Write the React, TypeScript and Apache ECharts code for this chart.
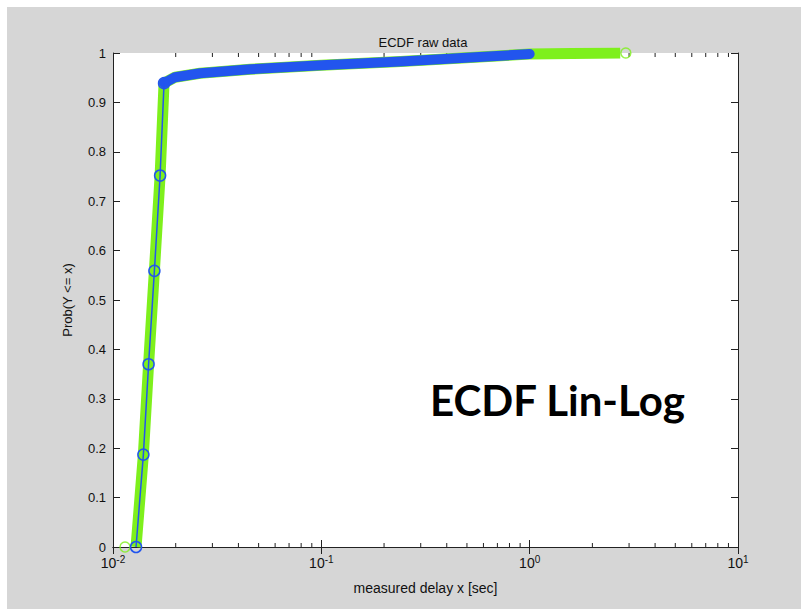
import React, { useEffect, useRef } from "react";
import * as echarts from "echarts";

// ---- data ----
const greenX = [0.0129, 0.01399, 0.01482, 0.0158, 0.01683, 0.01758, 0.01987, 0.0262, 0.0456, 0.1, 0.24, 0.52, 1.0, 1.6, 2.72];
const greenY = [0, 0.187, 0.37, 0.559, 0.752, 0.939, 0.951, 0.959, 0.967, 0.975, 0.983, 0.991, 0.998, 0.999, 1.0];
const greenEndsX = [0.01142, 2.894];
const greenEndsY = [0, 1.0];

const blueX = [0.0129, 0.01399, 0.01482, 0.0158, 0.01683, 0.01758];
const blueY = [0, 0.187, 0.37, 0.559, 0.752, 0.939];

const blueTailX = [0.01758, 0.01987, 0.0262, 0.0456, 0.1, 0.24, 0.52, 1.0];
const blueTailY = [0.939, 0.951, 0.959, 0.967, 0.975, 0.983, 0.991, 0.998];

const minorTickValues = [
  0.02, 0.03, 0.04, 0.05, 0.06, 0.07, 0.08, 0.09,
  0.2, 0.3, 0.4, 0.5, 0.6, 0.7, 0.8, 0.9,
  2, 3, 4, 5, 6, 7, 8, 9,
];

const titleText = "ECDF raw data";
const xName = "measured delay x [sec]";
const yName = "Prob(Y <= x)";
const annotation = "ECDF Lin-Log";

const LIME = "#7ef01c";
const BLUE = "#2255ee";
const FONT = "'Liberation Sans', Arial, sans-serif";

const zip = (xs: number[], ys: number[]) => xs.map((x, i) => [x, ys[i]]);

export default function App() {
  const ref = useRef<HTMLDivElement>(null);
  useEffect(() => {
    if (!ref.current) return;
    const chart = echarts.init(ref.current, undefined, { renderer: "svg" });
    const logAxisBase = {
      type: "log" as const,
      logBase: 10,
      min: 0.01,
      max: 10,
      axisLine: { show: true, lineStyle: { color: "#222", width: 1 } },
      axisTick: { show: true, inside: true, length: 7, lineStyle: { color: "#222" } },
      splitLine: { show: false },
      minorTick: { show: false },
    };
    const valAxisBase = {
      type: "value" as const,
      min: 0,
      max: 1,
      interval: 0.1,
      axisLine: { show: true, lineStyle: { color: "#222", width: 1 } },
      axisTick: { show: true, inside: true, length: 7, lineStyle: { color: "#222" } },
      splitLine: { show: false },
    };
    chart.setOption({
      animation: false,
      backgroundColor: "#d6d6d6",
      title: {
        text: titleText,
        left: 411,
        top: 24,
        textAlign: "center",
        textStyle: { fontFamily: FONT, fontSize: 13, fontWeight: "normal", color: "#111" },
      },
      grid: {
        left: 106,
        right: 63,
        top: 46,
        bottom: 62,
        show: true,
        backgroundColor: "#ffffff",
        borderWidth: 0,
      },
      xAxis: [
        {
          ...logAxisBase,
          position: "bottom",
          name: xName,
          nameLocation: "middle",
          nameGap: 34,
          nameTextStyle: { fontFamily: FONT, fontSize: 14, color: "#111" },
          axisLabel: {
            margin: 7,
            formatter: (v: number) => `{b|10}{s|${Math.round(Math.log10(v))}}`,
            rich: {
              b: { fontFamily: FONT, fontSize: 14, color: "#111", lineHeight: 14, padding: [3, 0, 0, 0] },
              s: { fontFamily: FONT, fontSize: 10, color: "#111", lineHeight: 10, verticalAlign: "top" },
            },
          },
        },
        { ...logAxisBase, position: "top", axisLabel: { show: false } },
      ],
      yAxis: [
        {
          ...valAxisBase,
          position: "left",
          name: yName,
          nameLocation: "middle",
          nameRotate: 90,
          nameGap: 39,
          nameTextStyle: { fontFamily: FONT, fontSize: 13, color: "#111" },
          axisLabel: {
            margin: 7,
            fontFamily: FONT,
            fontSize: 13,
            color: "#111",
            formatter: (v: number) => String(Math.round(v * 10) / 10),
          },
        },
        { ...valAxisBase, position: "right", axisLabel: { show: false } },
      ],
      graphic: [
        {
          type: "text",
          x: 423,
          y: 393,
          style: {
            text: annotation,
            font: "bold 42px Lato, 'Open Sans', sans-serif",
            fill: "#000",
            verticalAlign: "middle",
            align: "left",
          },
        },
      ],
      series: [
        {
          type: "custom",
          xAxisIndex: 0,
          yAxisIndex: 0,
          silent: true,
          clip: false,
          data: minorTickValues.map((v) => [v, 0]),
          renderItem: (params: any, api: any) => {
            const v = api.value(0);
            const b = api.coord([v, 0]);
            const t = api.coord([v, 1]);
            const st = { stroke: "#222", lineWidth: 1 };
            return {
              type: "group",
              children: [
                { type: "line", shape: { x1: b[0], y1: b[1], x2: b[0], y2: b[1] - 4 }, style: st },
                { type: "line", shape: { x1: t[0], y1: t[1], x2: t[0], y2: t[1] + 4 }, style: st },
              ],
            };
          },
        },
        {
          type: "line",
          name: "green",
          data: zip(greenX, greenY),
          showSymbol: false,
          symbol: "none",
          lineStyle: { color: LIME, width: 11, cap: "butt", join: "round" },
          z: 2,
        },
        {
          type: "scatter",
          name: "green ends",
          data: zip(greenEndsX, greenEndsY),
          symbol: "circle",
          symbolSize: 10,
          itemStyle: { color: "rgba(0,0,0,0)", borderColor: LIME, borderWidth: 1.5 },
          clip: false,
          z: 3,
        },
        {
          type: "line",
          name: "blue tail",
          data: zip(blueTailX, blueTailY),
          showSymbol: false,
          symbol: "none",
          lineStyle: { color: BLUE, width: 10, cap: "round", join: "round" },
          z: 4,
        },
        {
          type: "line",
          name: "blue",
          data: zip(blueX, blueY),
          symbol: "circle",
          symbolSize: 11,
          showSymbol: true,
          clip: false,
          lineStyle: { color: BLUE, width: 1.5 },
          itemStyle: { color: "rgba(0,0,0,0)", borderColor: BLUE, borderWidth: 1.5 },
          z: 5,
        },
      ],
    });
    return () => chart.dispose();
  }, []);
  return (
    <div style={{ position: "fixed", left: 0, top: 0, width: 801, height: 609, background: "#ffffff" }}>
      <div ref={ref} style={{ position: "absolute", left: 7, top: 7, width: 794, height: 602 }} />
    </div>
  );
}
